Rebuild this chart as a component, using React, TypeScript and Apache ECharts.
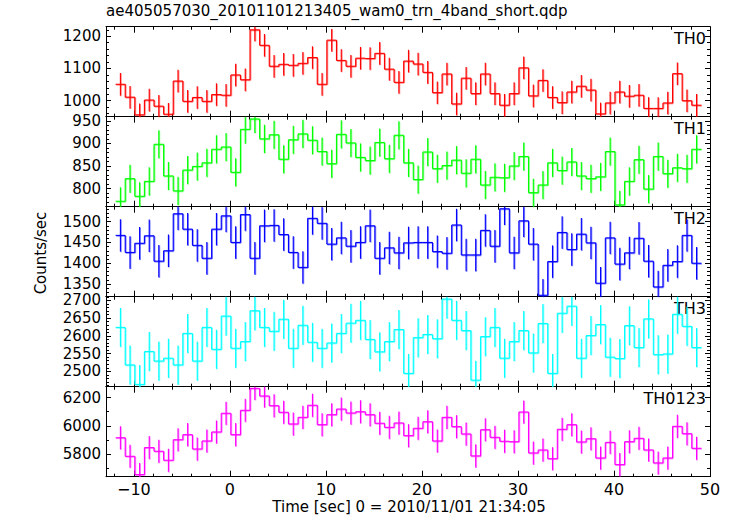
import React, { useEffect, useRef } from 'react';
import * as echarts from 'echarts';

// Bin centres (seconds), 1 s bins
const TIMES = [
  -11.4, -10.4, -9.4, -8.4, -7.4, -6.4, -5.4, -4.4, -3.4, -2.4,
  -1.4, -0.4, 0.6, 1.6, 2.6, 3.6, 4.6, 5.6, 6.6, 7.6,
  8.6, 9.6, 10.6, 11.6, 12.6, 13.6, 14.6, 15.6, 16.6, 17.6,
  18.6, 19.6, 20.6, 21.6, 22.6, 23.6, 24.6, 25.6, 26.6, 27.6,
  28.6, 29.6, 30.6, 31.6, 32.6, 33.6, 34.6, 35.6, 36.6, 37.6,
  38.6, 39.6, 40.6, 41.6, 42.6, 43.6, 44.6, 45.6, 46.6, 47.6,
  48.6,
];
const HALF_BIN = 0.5;

const TH0 = [
  1051, 1011, 956, 1002, 983, 958, 1061, 998, 1010, 998,
  1019, 1017, 1080, 1065, 1220, 1172, 1107, 1113, 1110, 1116,
  1134, 1051, 1188, 1125, 1107, 1132, 1131, 1147, 1098, 1057,
  1123, 1114, 1088, 1025, 1083, 990, 1070, 1022, 1083, 1022,
  986, 1022, 1102, 1015, 1063, 1010, 994, 1027, 1045, 1033,
  959, 993, 1027, 1014, 1017, 976, 976, 993, 1084, 1000,
  986,
];
const TH1 = [
  772, 822, 783, 816, 898, 828, 795, 841, 849, 857,
  887, 892, 836, 931, 954, 910, 919, 865, 908, 921,
  907, 882, 855, 920, 901, 869, 862, 902, 866, 918,
  857, 820, 881, 844, 851, 863, 834, 865, 808, 825,
  824, 850, 871, 791, 808, 857, 840, 859, 828, 822,
  826, 882, 764, 816, 864, 799, 871, 833, 846, 844,
  887,
];
const TH2 = [
  1467, 1426, 1448, 1466, 1405, 1430, 1519, 1482, 1443, 1412,
  1482, 1514, 1450, 1517, 1412, 1490, 1491, 1469, 1426, 1390,
  1508, 1496, 1446, 1461, 1441, 1450, 1490, 1412, 1437, 1425,
  1449, 1450, 1450, 1428, 1424, 1492, 1420, 1420, 1479, 1441,
  1531, 1425, 1502, 1446, 1323, 1404, 1474, 1433, 1470, 1449,
  1352, 1461, 1398, 1425, 1460, 1405, 1343, 1395, 1404, 1467,
  1400,
];
const TH3 = [
  2624, 2518, 2463, 2556, 2529, 2537, 2518, 2607, 2529, 2624,
  2562, 2656, 2565, 2584, 2671, 2624, 2613, 2647, 2565, 2630,
  2582, 2565, 2580, 2607, 2636, 2644, 2590, 2555, 2584, 2618,
  2494, 2595, 2604, 2592, 2704, 2644, 2615, 2475, 2598, 2624,
  2537, 2584, 2615, 2552, 2635, 2494, 2664, 2684, 2537, 2601,
  2632, 2540, 2536, 2629, 2567, 2648, 2547, 2549, 2661, 2627,
  2567,
];
const TH0123 = [
  5915, 5783, 5653, 5845, 5819, 5755, 5901, 5937, 5835, 5892,
  5956, 6089, 5937, 6110, 6266, 6212, 6143, 6096, 6013, 6060,
  6146, 6008, 6079, 6119, 6091, 6100, 6079, 6018, 5989, 6020,
  5930, 5982, 6029, 5892, 6060, 5994, 5942, 5786, 5972, 5918,
  5890, 5887, 6098, 5807, 5828, 5766, 5975, 6008, 5885, 5908,
  5771, 5882, 5724, 5887, 5911, 5828, 5736, 5771, 5996, 5944,
  5840,
];

const PANEL_NAMES = ['TH0', 'TH1', 'TH2', 'TH3', 'TH0123'];
const PANEL_VALUES = [TH0, TH1, TH2, TH3, TH0123];
const PANEL_ERRORS = [35, 31, 39, 55, 82];
const PANEL_COLORS = ['#ff0000', '#00ff00', '#0000ff', '#00ffff', '#ff00ff'];
const Y_MIN = [950.3, 760, 1319.5, 2456.5, 5638];
const Y_MAX = [1229.8, 959, 1536, 2710.7, 6278];
const Y_SPLIT = [3, 4, 4, 5, 3];
const Y_LABEL_STEP = [100, 50, 50, 50, 200];
const Y_MINOR_SPLIT = [5, 5, 5, 5, 2];
const X_MIN = -12.9;
const X_MAX = 50;
const X_LABEL_STEP = 10;

const TITLE = 'ae405057030_20101101213405_wam0_trn_4band_short.qdp';
const X_TITLE = 'Time [sec] 0 = 2010/11/01 21:34:05';
const Y_TITLE = 'Counts/sec';

const FONT = 'DejaVu Sans';
const GRID_LEFT = 106;
const GRID_WIDTH = 604;
const GRID_TOP = 26.7;
const GRID_H = 90;

function stepLabel(step: number) {
  return (v: number) => {
    const r = Math.round(v);
    if (Math.abs(v - r) > 1e-6 || r % step !== 0) return '';
    return String(r).replace('-', '\u2212');
  };
}

function makeRender(color: string) {
  return (params: any, api: any) => {
    const x = api.value(0);
    const y = api.value(1);
    const e = api.value(2);
    const yn = api.value(3);
    const cs = params.coordSys;
    const top = cs.y;
    const bot = cs.y + cs.height;
    const cl = (v: number) => Math.max(top, Math.min(bot, v));
    const pL = api.coord([x - HALF_BIN, y]);
    const pR = api.coord([x + HALF_BIN, y]);
    const pN = api.coord([x + HALF_BIN, yn]);
    const pHi = api.coord([x, y + e]);
    const pLo = api.coord([x, y - e]);
    const segs: number[][] = [];
    if (pL[1] >= top && pL[1] <= bot) segs.push([pL[0], pL[1], pR[0], pR[1]]);
    segs.push([pR[0], cl(pR[1]), pN[0], cl(pN[1])]);
    segs.push([pHi[0], cl(pHi[1]), pLo[0], cl(pLo[1])]);
    const children: any[] = [];
    segs.forEach((s) => {
      children.push({
        type: 'line',
        shape: { x1: s[0] + 0.6, y1: s[1] + 0.6, x2: s[2] + 0.6, y2: s[3] + 0.6 },
        style: { stroke: color, lineWidth: 1.6, opacity: 0.45 },
      });
      children.push({
        type: 'line',
        shape: { x1: s[0], y1: s[1], x2: s[2], y2: s[3] },
        style: { stroke: color, lineWidth: 1.1 },
      });
    });
    return { type: 'group', children };
  };
}

export default function App() {
  const ref = useRef<HTMLDivElement>(null);
  useEffect(() => {
    if (!ref.current) return;
    const chart = echarts.init(ref.current, undefined, { renderer: 'svg' });
    const grids: any[] = [];
    const xAxes: any[] = [];
    const yAxes: any[] = [];
    const series: any[] = [];
    const graphics: any[] = [];
    PANEL_NAMES.forEach((name, i) => {
      const top = GRID_TOP + GRID_H * i;
      grids.push({ left: GRID_LEFT, width: GRID_WIDTH, top, height: GRID_H });
      const isBottom = i === PANEL_NAMES.length - 1;
      ['bottom', 'top'].forEach((pos) => {
        xAxes.push({
          type: 'value',
          gridIndex: i,
          position: pos,
          min: X_MIN,
          max: X_MAX,
          splitNumber: 6,
          axisLine: { show: true, onZero: false, lineStyle: { color: '#000', width: 1 } },
          axisTick: { show: true, inside: true, length: 6, lineStyle: { color: '#000' } },
          minorTick: { show: true, splitNumber: 5, length: 3, lineStyle: { color: '#000' } },
          splitLine: { show: false },
          axisLabel: {
            show: isBottom && pos === 'bottom',
            color: '#000',
            fontFamily: FONT,
            fontSize: 16,
            margin: 5,
            formatter: stepLabel(X_LABEL_STEP),
          },
        });
      });
      ['left', 'right'].forEach((pos) => {
        yAxes.push({
          type: 'value',
          gridIndex: i,
          position: pos,
          min: Y_MIN[i],
          max: Y_MAX[i],
          splitNumber: Y_SPLIT[i],
          axisLine: { show: true, onZero: false, lineStyle: { color: '#000', width: 1 } },
          axisTick: { show: true, inside: true, length: 5, lineStyle: { color: '#000' } },
          minorTick: { show: true, splitNumber: Y_MINOR_SPLIT[i], length: 3, lineStyle: { color: '#000' } },
          splitLine: { show: false },
          axisLabel: {
            show: pos === 'left',
            color: '#000',
            fontFamily: FONT,
            fontSize: 15,
            margin: 5,
            formatter: stepLabel(Y_LABEL_STEP[i]),
          },
        });
      });
      const vals = PANEL_VALUES[i];
      const err = PANEL_ERRORS[i];
      series.push({
        type: 'custom',
        xAxisIndex: 2 * i,
        yAxisIndex: 2 * i,
        renderItem: makeRender(PANEL_COLORS[i]),
        data: TIMES.map((t, k) => [t, vals[k], err, k + 1 < vals.length ? vals[k + 1] : vals[k]]),
        silent: true,
      });
      graphics.push({
        type: 'text',
        right: 26,
        top: top + 4,
        style: { text: name, fontFamily: FONT, fontSize: 16, fill: '#000' },
      });
    });
    graphics.push({
      type: 'text',
      left: GRID_LEFT,
      top: 3,
      style: { text: TITLE, fontFamily: FONT, fontSize: 15, fill: '#000' },
    });
    graphics.push({
      type: 'text',
      x: 409,
      y: 507,
      style: { text: X_TITLE, fontFamily: FONT, fontSize: 15, fill: '#000', textAlign: 'center', textVerticalAlign: 'middle' },
    });
    graphics.push({
      type: 'text',
      x: 41,
      y: 253,
      rotation: Math.PI / 2,
      style: { text: Y_TITLE, fontFamily: FONT, fontSize: 15, fill: '#000', textAlign: 'center', textVerticalAlign: 'middle' },
    });
    chart.setOption({
      animation: false,
      backgroundColor: '#fff',
      grid: grids,
      xAxis: xAxes,
      yAxis: yAxes,
      series,
      graphic: graphics,
    });
    return () => chart.dispose();
  }, []);
  return (
    <div
      ref={ref}
      style={{ position: 'absolute', left: 0, top: 0, width: 732, height: 516, background: '#fff' }}
    />
  );
}
